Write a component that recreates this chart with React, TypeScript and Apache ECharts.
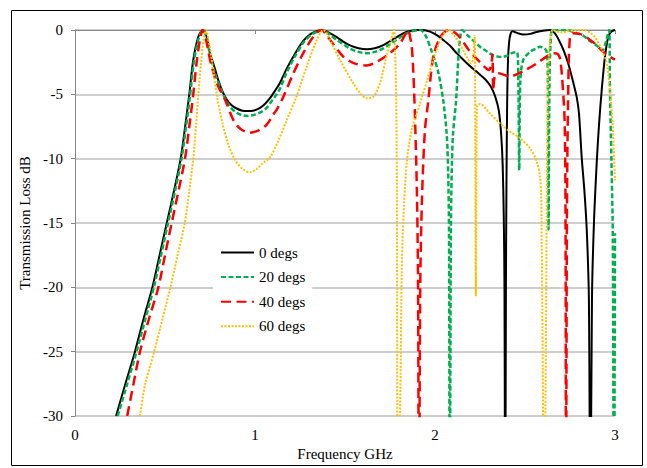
import React, { useEffect, useRef } from "react";
import * as echarts from "echarts";

// Frequency (GHz), transmission loss (dB)
const seriesNames = ["0 degs", "20 degs", "40 degs", "60 degs"];
const xTicks = { min: 0, max: 3, step: 1 };
const yTicks = { min: -30, max: 0, step: 5 };

const deg0: [number, number][] = [
  [0.228, -30], [0.28, -27.5], [0.333, -25], [0.38, -22.5], [0.43, -20], [0.47, -17.5], [0.51, -15],
  [0.55, -12.5], [0.587, -10], [0.612, -7.5], [0.635, -5], [0.657, -2.33], [0.685, -0.52], [0.71, 0],
  [0.731, -0.52], [0.75, -1.8], [0.775, -2.9], [0.796, -3.9], [0.82, -4.8], [0.843, -5.4], [0.87, -5.85],
  [0.898, -6.1], [0.93, -6.27], [0.96, -6.3], [0.995, -6.25], [1.028, -6.05], [1.055, -5.75], [1.083, -5.3],
  [1.11, -4.75], [1.139, -4.1], [1.176, -3.0], [1.22, -1.9], [1.268, -0.85], [1.31, -0.3], [1.343, -0.1],
  [1.375, 0], [1.41, -0.2], [1.454, -0.55], [1.49, -0.9], [1.528, -1.2], [1.575, -1.42], [1.62, -1.5],
  [1.665, -1.42], [1.713, -1.17], [1.76, -0.78], [1.806, -0.39], [1.85, -0.12], [1.9, 0], [1.935, 0],
  [1.972, -0.13], [2.01, -0.4], [2.046, -0.78], [2.085, -1.25], [2.12, -1.8], [2.16, -2.35], [2.194, -2.8],
  [2.24, -3.35], [2.28, -3.85], [2.31, -4.4], [2.335, -5.2], [2.355, -6.3], [2.368, -8.2], [2.376, -10.5],
  [2.382, -14.5], [2.386, -20], [2.39, -40], [2.394, -20], [2.397, -12], [2.401, -5.5], [2.406, -2.2],
  [2.412, -0.9], [2.42, -0.3], [2.43, -0.1], [2.46, -0.25], [2.49, -0.35], [2.53, -0.3], [2.565, -0.15],
  [2.6, -0.05], [2.64, 0], [2.665, -0.25], [2.69, -0.83], [2.715, -1.6], [2.74, -2.6], [2.765, -3.9],
  [2.787, -5.2], [2.8, -6.5], [2.815, -9.9], [2.83, -12.5], [2.843, -15.5], [2.855, -21], [2.863, -40],
  [2.872, -21], [2.883, -15], [2.9, -9.9], [2.913, -7], [2.926, -4.7], [2.944, -2.1], [2.963, -0.5],
  [2.98, -0.12], [3.0, 0],
];

const deg20: [number, number][] = [
  [0.237, -30], [0.29, -27.5], [0.342, -25], [0.39, -22.5], [0.438, -20], [0.478, -17.5], [0.517, -15],
  [0.556, -12.5], [0.592, -10], [0.617, -7.5], [0.64, -5], [0.66, -2.5], [0.688, -0.6], [0.71, 0],
  [0.732, -0.6], [0.75, -2.0], [0.778, -3.4], [0.806, -4.4], [0.835, -5.35], [0.861, -5.96], [0.895, -6.4],
  [0.93, -6.62], [0.96, -6.68], [0.995, -6.6], [1.03, -6.4], [1.065, -6.05], [1.083, -5.7], [1.11, -5.2],
  [1.139, -4.55], [1.176, -3.3], [1.22, -2.1], [1.268, -1.0], [1.31, -0.4], [1.343, -0.15], [1.375, 0],
  [1.41, -0.3], [1.454, -0.78], [1.49, -1.1], [1.528, -1.45], [1.575, -1.7], [1.62, -1.8], [1.665, -1.7],
  [1.713, -1.43], [1.75, -1.1], [1.787, -0.75], [1.83, -0.35], [1.861, -0.15], [1.9, -0.02], [1.92, 0],
  [1.95, -0.5], [1.98, -1.6], [2.0, -2.4], [2.02, -3.4], [2.046, -5.5], [2.065, -8.1], [2.073, -11],
  [2.078, -16], [2.082, -40], [2.088, -16], [2.093, -11], [2.1, -8.1], [2.117, -5.5], [2.13, -2.1],
  [2.14, -0.6], [2.15, 0], [2.18, -0.4], [2.213, -0.83], [2.25, -1.3], [2.287, -1.65], [2.32, -1.95],
  [2.35, -2.07], [2.37, -2.1], [2.4, -2.0], [2.426, -1.8], [2.455, -1.7], [2.463, -4], [2.468, -10.9],
  [2.474, -4], [2.49, -2.33], [2.53, -1.68], [2.56, -1.45], [2.583, -1.3], [2.61, -1.45], [2.622, -1.8],
  [2.627, -4], [2.631, -15.5], [2.636, -4], [2.643, -0.8], [2.652, 0], [2.73, 0], [2.78, -0.2],
  [2.824, -0.45], [2.86, -0.85], [2.898, -1.2], [2.93, -1.58], [2.948, -1.0], [2.96, -0.35], [2.968, 0],
  [2.972, -4.7], [2.98, -10], [2.988, -16.4], [2.994, -40], [3.0, -15.8],
];

const deg40: [number, number][] = [
  [0.29, -30], [0.325, -27.5], [0.361, -25], [0.41, -22.5], [0.463, -20], [0.5, -17.5], [0.537, -15],
  [0.575, -12.5], [0.611, -10], [0.635, -7.5], [0.657, -5], [0.675, -2.6], [0.694, -0.78], [0.71, 0],
  [0.73, -0.9], [0.755, -2.6], [0.79, -4.2], [0.833, -5.4], [0.88, -7.0], [0.92, -7.7], [0.97, -7.98],
  [1.02, -7.8], [1.065, -7.35], [1.1, -6.6], [1.12, -6.2], [1.157, -5.2], [1.213, -3.37], [1.268, -1.8],
  [1.324, -0.52], [1.37, 0], [1.4, -0.45], [1.435, -1.1], [1.49, -2.07], [1.53, -2.45], [1.565, -2.65],
  [1.62, -2.75], [1.66, -2.6], [1.694, -2.33], [1.75, -1.8], [1.806, -1.04], [1.84, -0.2], [1.852, 0],
  [1.862, -0.6], [1.87, -1.1], [1.88, -3.4], [1.89, -7.3], [1.9, -13], [1.906, -20], [1.911, -40],
  [1.918, -20], [1.928, -13], [1.944, -7.8], [1.963, -5.5], [1.99, -2.1], [2.028, -0.57], [2.06, -0.1],
  [2.083, 0], [2.11, -0.2], [2.14, -0.6], [2.19, -1.6], [2.25, -2.5], [2.3, -3.1], [2.314, -2.6],
  [2.319, -1.9], [2.324, -4.7], [2.332, -3.6], [2.352, -3.37], [2.417, -3.6], [2.49, -3.2], [2.565, -2.6],
  [2.62, -2.07], [2.657, -1.8], [2.68, -1.85], [2.694, -2.2], [2.705, -3.5], [2.72, -7], [2.725, -14],
  [2.728, -40], [2.733, -14], [2.74, -5], [2.75, -0.52], [2.77, -0.26], [2.8, -0.3], [2.824, -0.4],
  [2.86, -0.75], [2.898, -1.17], [2.935, -1.7], [2.972, -2.07], [3.0, -2.3],
];

const deg60: [number, number][] = [
  [0.361, -30], [0.39, -27.5], [0.44, -25], [0.485, -22.5], [0.53, -20], [0.57, -17.5], [0.61, -15],
  [0.635, -12.5], [0.657, -10], [0.672, -7.5], [0.685, -5], [0.7, -2.6], [0.715, -0.7], [0.728, 0],
  [0.742, -0.8], [0.76, -2.3], [0.787, -5], [0.82, -7.3], [0.855, -9.0], [0.889, -10.1], [0.93, -10.8],
  [0.97, -11.05], [1.01, -10.8], [1.04, -10.4], [1.083, -9.9], [1.13, -8.6], [1.176, -7.0], [1.23, -5.2],
  [1.287, -2.85], [1.343, -0.78], [1.38, 0], [1.417, -0.78], [1.472, -2.33], [1.546, -4.15], [1.59, -5.0],
  [1.62, -5.3], [1.657, -5.2], [1.694, -4.15], [1.73, -2.07], [1.76, -0.52], [1.772, 0], [1.778, -1.5],
  [1.784, -5], [1.788, -12], [1.794, -40], [1.808, -28], [1.815, -19], [1.824, -14.8], [1.843, -10.3],
  [1.87, -7.8], [1.917, -5.7], [1.963, -3.6], [2.009, -1.5], [2.04, -0.5], [2.074, 0], [2.11, -0.5],
  [2.15, -1.4], [2.176, -2.1], [2.2, -2.6], [2.212, -2.2], [2.22, -0.45], [2.224, -10], [2.227, -20.7],
  [2.23, -10], [2.234, -5.9], [2.25, -5.75], [2.306, -6.5], [2.36, -7.25], [2.417, -7.9], [2.472, -8.4],
  [2.528, -9.2], [2.565, -10.2], [2.583, -11.4], [2.59, -13], [2.598, -25], [2.606, -40], [2.616, -25],
  [2.62, -15], [2.624, -8], [2.63, -3], [2.64, -0.8], [2.655, 0], [2.7, -0.2], [2.74, -0.1], [2.787, 0],
  [2.83, 0], [2.86, -0.2], [2.889, -0.57], [2.926, -1.5], [2.954, -2.6], [2.972, -4.7], [2.987, -7.3],
  [3.0, -11.7],
];

const seriesData = [deg0, deg20, deg40, deg60];
const colors = ["#000000", "#00B050", "#FF0000", "#FFC000"];
const widths = [2, 2.5, 2.5, 2];
const dashes: (string | number[])[] = ["solid", [5, 2.5], [10, 5.5], [2, 1.5]];

const FONT = "Liberation Serif";

export default function App() {
  const ref = useRef<HTMLDivElement>(null);
  useEffect(() => {
    if (!ref.current) return;
    const chart = echarts.init(ref.current, undefined, { renderer: "svg" });
    chart.setOption({
      animation: false,
      backgroundColor: "#ffffff",
      textStyle: { fontFamily: FONT },
      grid: { left: 75, top: 30, width: 540, height: 386, containLabel: false },
      xAxis: {
        type: "value",
        min: xTicks.min,
        max: xTicks.max,
        interval: xTicks.step,
        name: "Frequency GHz",
        nameLocation: "middle",
        nameGap: 29,
        nameTextStyle: { fontFamily: FONT, fontSize: 15, color: "#000" },
        axisLine: { show: true, lineStyle: { color: "#868686", width: 1 } },
        axisTick: { show: true, length: 4, lineStyle: { color: "#868686" } },
        axisLabel: { fontFamily: FONT, fontSize: 15, color: "#000", margin: 11 },
        splitLine: { show: false },
      },
      yAxis: {
        type: "value",
        min: yTicks.min,
        max: yTicks.max,
        interval: yTicks.step,
        name: "Transmission Loss dB",
        nameLocation: "middle",
        nameGap: 41,
        nameTextStyle: { fontFamily: FONT, fontSize: 15, color: "#000" },
        axisLine: { show: true, lineStyle: { color: "#868686", width: 1 } },
        axisTick: { show: true, length: 4, lineStyle: { color: "#868686" } },
        axisLabel: { fontFamily: FONT, fontSize: 15, color: "#000", margin: 12 },
        splitLine: { show: true, lineStyle: { color: "#BEBEBE", width: 1.5 } },
      },
      legend: {
        orient: "vertical",
        left: 213,
        top: 238,
        padding: [7, 7, 7, 7],
        backgroundColor: "#ffffff",
        itemWidth: 33,
        itemHeight: 15,
        itemGap: 9.6,
        selectedMode: false,
        itemStyle: { opacity: 0, borderWidth: 0 },
        textStyle: { fontFamily: FONT, fontSize: 15, color: "#000" },
        data: seriesNames,
      },
      graphic: [
        {
          type: "rect",
          left: 9,
          top: 8,
          shape: { x: 0, y: 0, width: 631, height: 455 },
          style: { fill: "none", stroke: "#000", lineWidth: 1 },
          silent: true,
        },
      ],
      series: seriesNames.map((name, i) => ({
        name,
        type: "line",
        data: seriesData[i],
        showSymbol: false,
        symbol: "none",
        smooth: 0.3,
        clip: true,
        lineStyle: { color: colors[i], width: widths[i], type: dashes[i] },
        itemStyle: { color: colors[i] },
        emphasis: { disabled: true },
      })),
    });
    return () => chart.dispose();
  }, []);
  return (
    <div
      ref={ref}
      style={{ position: "fixed", left: 0, top: 0, width: 647, height: 468, background: "#fff" }}
    />
  );
}
